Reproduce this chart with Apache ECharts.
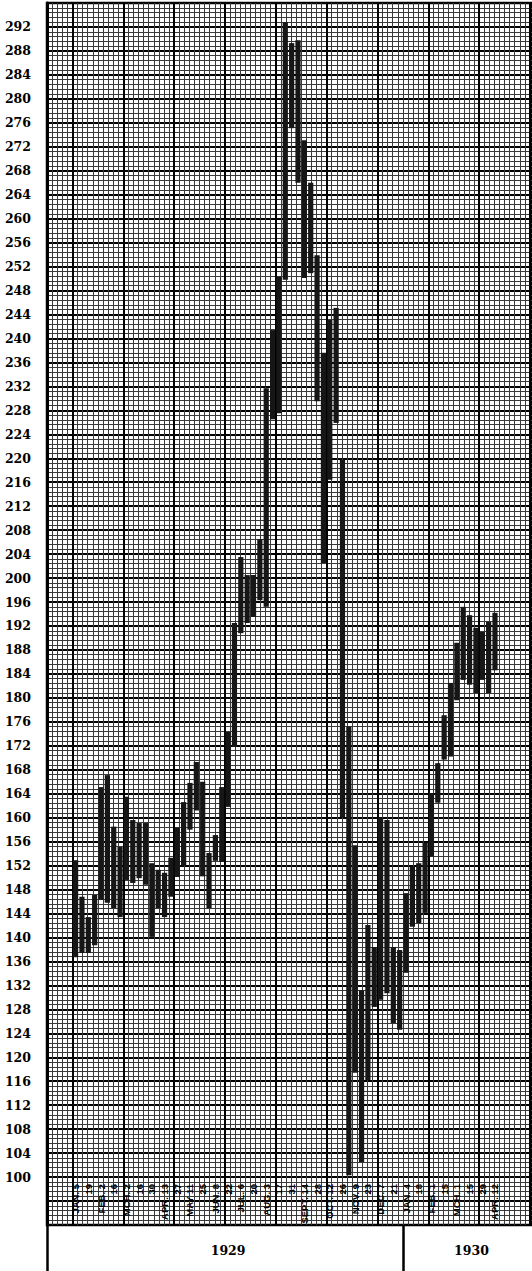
<!DOCTYPE html>
<html>
<head>
<meta charset="utf-8">
<script src="https://cdn.jsdelivr.net/npm/echarts@6/dist/echarts.min.js"></script>
<style>
html, body { margin: 0; padding: 0; background: #fff; }
#chart { width: 532px; height: 1271px; }
</style>
</head>
<body>
<div id="chart"></div>
<script>
// weekly low / high, one entry per week starting Jan 5 1929
var weekLows = [136.7, 137.4, 137.4, 138.7, 146.3, 145.8, 144.9, 143.4, 149.6, 149.1,
    149.9, 148.8, 140.1, 144.9, 143.4, 146.8, 150.1, 152.0, 158.0, 161.2,
    150.2, 144.9, 152.8, 152.6, 161.8, 171.8, 190.8, 192.5, 193.5, 196.3,
    195.2, 226.5, 227.5, 249.8, 275.1, 266.0, 250.1, 250.9, 229.5, 202.5,
    216.4, 225.9, 160.1, 100.3, 117.4, 102.5, 116.2, 128.4, 129.6, 130.7,
    125.7, 124.6, 134.1, 141.8, 142.4, 144.1, 153.5, 162.5, 169.7, 170.2,
    179.6, 183.0, 182.2, 180.8, 183.0, 180.8, 184.6];
var weekHighs = [152.9, 146.8, 143.4, 147.1, 165.1, 167.1, 158.5, 155.1, 163.5, 159.6,
    159.1, 159.1, 152.4, 151.3, 150.8, 153.3, 158.3, 162.6, 165.8, 169.3,
    166.0, 154.1, 157.1, 165.1, 174.3, 192.5, 203.5, 200.5, 200.5, 206.5,
    231.7, 241.4, 250.3, 292.8, 289.3, 289.8, 273.1, 266.0, 253.9, 237.6,
    243.1, 245.1, 219.7, 175.2, 155.4, 131.2, 142.1, 138.4, 159.9, 159.6,
    138.4, 137.9, 147.4, 151.8, 152.4, 155.8, 164.1, 169.1, 177.1, 182.5,
    189.2, 195.2, 193.8, 191.7, 191.0, 192.7, 194.2];
// a date label every second week
var dateLabels = ['JAN. 5', '19', 'FEB. 2', '16', 'MCH. 2', '16', '30', 'APR. 13', '27',
    'MAY 11', '25', 'JUN. 8', '22', 'JUL. 6', '20', 'AUG. 3', '17', '31', 'SEPT. 14',
    '28', 'OCT. 12', '26', 'NOV. 9', '23', 'DEC. 7', '21', 'JAN. 4', '18', 'FEB. 1',
    '15', 'MCH. 1', '15', '29', 'APR. 12'];
var yearLabels = ['1929', '1930'];

var chartDom = document.getElementById('chart');
var myChart = echarts.init(chartDom, null, { renderer: 'svg' });
var option;

// layout of the graph paper
var weekPx = 6.42;
var gridLeft = 47;
var gridWidth = 532 + 5 - gridLeft;
var xMin = -4.5;
var xMax = xMin + gridWidth / weekPx;
var cellWeeks = 0.8;
var cellMax = gridWidth / (weekPx * cellWeeks);

var labelWeeks = dateLabels.map(function (d, k) { return 2 * k; });
var yearEdges = [-4.5, 51.5];
var yearCenters = [24, 62.3];

var hidden = {
    axisLine: { show: false },
    axisTick: { show: false },
    axisLabel: { show: false }
};

option = {
    animation: false,
    backgroundColor: '#fff',
    grid: {
        left: gridLeft,
        right: -5,
        top: 3,
        bottom: 46,
        show: true,
        borderColor: '#000',
        borderWidth: 2.5
    },
    xAxis: [{
        // weeks, date labels inside the paper
        type: 'value',
        position: 'bottom',
        min: xMin,
        max: xMax,
        axisLine: { show: false, onZero: false },
        axisTick: { show: false },
        splitLine: { show: false },
        axisLabel: {
            customValues: labelWeeks,
            rotate: 90,
            margin: -41,
            color: '#000',
            fontFamily: 'Liberation Sans',
            fontWeight: 'bold',
            fontSize: 9.5,
            formatter: function (v) {
                return dateLabels[Math.round(v / 2)];
            }
        }
    }, Object.assign({
        // fine vertical rulings
        type: 'value',
        position: 'bottom',
        min: 0,
        max: cellMax,
        interval: 1,
        splitLine: { show: true, lineStyle: { color: '#3a3a3a', width: 1 } }
    }, hidden), Object.assign({
        // heavy vertical rulings every 8 weeks
        type: 'value',
        position: 'bottom',
        min: 0,
        max: cellMax,
        interval: 5,
        splitLine: { show: true, lineStyle: { color: ['rgba(0,0,0,0)', '#000'], width: 2 } }
    }, hidden), {
        // year band under the paper
        type: 'value',
        position: 'bottom',
        min: xMin,
        max: xMax,
        axisLine: { show: false, onZero: false },
        splitLine: { show: false },
        axisTick: {
            show: true,
            customValues: yearEdges,
            length: 46,
            lineStyle: { color: '#000', width: 2.5 }
        },
        axisLabel: {
            customValues: yearCenters,
            margin: 19,
            color: '#000',
            fontFamily: 'DejaVu Serif',
            fontWeight: 'bold',
            fontSize: 12.5,
            formatter: function (v) {
                return v < 51.5 ? yearLabels[0] : yearLabels[1];
            }
        }
    }],
    yAxis: {
        type: 'value',
        min: 92,
        max: 296,
        interval: 4,
        axisLine: { show: true, onZero: false, lineStyle: { color: '#000', width: 3 } },
        axisTick: { show: false },
        axisLabel: {
            margin: 16,
            color: '#000',
            fontFamily: 'DejaVu Serif',
            fontWeight: 'bold',
            fontSize: 12.5,
            formatter: function (v) {
                return (v >= 100 && v <= 292) ? String(v) : '';
            }
        },
        splitLine: { show: true, lineStyle: { color: '#000', width: 2 } },
        minorTick: { show: false, splitNumber: 5 },
        minorSplitLine: { show: true, lineStyle: { color: '#3a3a3a', width: 1 } }
    },
    series: [{
        name: 'Range',
        type: 'custom',
        xAxisIndex: 0,
        yAxisIndex: 0,
        data: weekLows.map(function (lo, i) { return [i, lo, weekHighs[i]]; }),
        encode: { x: 0, y: [1, 2] },
        renderItem: function (params, api) {
            var top = api.coord([api.value(0), api.value(2)]);
            var bottom = api.coord([api.value(0), api.value(1)]);
            var w = api.size([0.82, 0])[0];
            return {
                type: 'rect',
                shape: { x: top[0] - w / 2, y: top[1], width: w, height: bottom[1] - top[1] },
                style: { fill: '#161616' }
            };
        }
    }]
};
option && myChart.setOption(option);
</script>
</body>
</html>
